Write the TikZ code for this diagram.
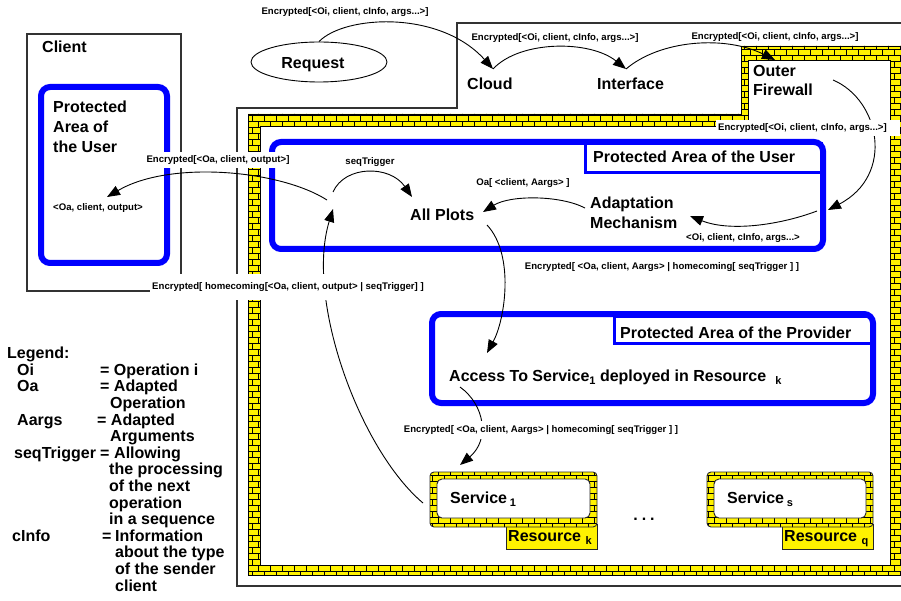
\documentclass[tikz,border=0pt]{standalone}
\usepackage{fontspec}
\setmainfont{Liberation Sans}
\usetikzlibrary{arrows.meta,shapes.geometric,patterns}
\pgfdeclarepatternformonly{mybricks}{\pgfpoint{-1pt}{-1pt}}{\pgfpoint{13pt}{13pt}}{\pgfpoint{12pt}{12pt}}{%
  \pgfsetlinewidth{0.5pt}%
  \pgfpathmoveto{\pgfpoint{0pt}{0pt}}\pgfpathlineto{\pgfpoint{12pt}{0pt}}%
  \pgfpathmoveto{\pgfpoint{0pt}{6pt}}\pgfpathlineto{\pgfpoint{12pt}{6pt}}%
  \pgfpathmoveto{\pgfpoint{0pt}{0pt}}\pgfpathlineto{\pgfpoint{0pt}{6pt}}%
  \pgfpathmoveto{\pgfpoint{6pt}{6pt}}\pgfpathlineto{\pgfpoint{6pt}{12pt}}%
  \pgfusepath{stroke}}
\newcommand\sbs[1]{\raisebox{-3.5pt}{\fontsize{11}{11}\selectfont #1}}
\begin{document}
\begin{tikzpicture}[x=1pt,y=-1pt,
  bigtxt/.style={font=\fontsize{16}{19}\selectfont\bfseries, inner sep=0pt},
  smalltxt/.style={font=\fontsize{9.6}{11}\selectfont\bfseries, inner sep=1pt},
  wlabel/.style={smalltxt, fill=white, inner xsep=2pt, inner ysep=4pt},
  conn/.style={line width=0.9pt, -{Triangle[length=13pt,width=10pt]}},
  frame/.style={draw=black!80, line width=1.3pt},
  bluebox/.style={draw=blue, line width=6pt, rounded corners=9pt},
  tabbox/.style={draw=blue, line width=3pt, fill=white},
  brickband/.style={even odd rule, fill=yellow, postaction={even odd rule, pattern=mybricks}, postaction={draw=black, line width=0.8pt}},
  brickbox/.style={fill=yellow, rounded corners=4pt, postaction={pattern=mybricks}, postaction={draw=black!85, line width=0.9pt}},
  innerbox/.style={fill=white, draw=black!85, line width=0.9pt, rounded corners=5pt},
  resbox/.style={fill=yellow, draw=black!85, line width=0.9pt},
  legtxt/.style={bigtxt, anchor=base west}
]
\useasboundingbox (0,0) rectangle (901,601);
% provider domain outline
\draw[frame] (237,108) -- (457,108) -- (457,23) -- (920,23) -- (920,586) -- (237,586) -- cycle;
% firewall bricks
\path[brickband] (248,114) -- (741,114) -- (741,46) -- (905,46) -- (905,575) -- (248,575) -- cycle
  (260,126) -- (748,126) -- (748,60) -- (890,60) -- (890,565) -- (260,565) -- cycle;
% client
\draw[frame] (27,34) rectangle (181,291);
\draw[bluebox] (41,87) rectangle (167,263);
% protected area of the user
\draw[tabbox] (585.5,144) rectangle (821,172.5);
\draw[bluebox] (272,142) rectangle (823,249);
% protected area of the provider
\draw[tabbox] (614.5,316) rectangle (871,343.5);
\draw[bluebox] (432,314) rectangle (873,403);
% services and resources
\draw[resbox] (506,524) rectangle (597,549);
\draw[resbox] (782,524) rectangle (873,549);
\path[brickbox] (430,472) rectangle (597,527);
\draw[innerbox] (437,479) rectangle (590,518);
\path[brickbox] (707,472) rectangle (873,527);
\draw[innerbox] (714,479) rectangle (866,518);

% texts
\node[bigtxt, anchor=base west] (clientT) at (42,53) {Client};
\node[bigtxt, anchor=base west] (cpa1) at (53,113) {Protected};
\node[bigtxt, anchor=base west] (cpa2) at (53,133) {Area of};
\node[bigtxt, anchor=base west] (cpa3) at (53,153) {the User};
\node[draw, ellipse, line width=0.9pt, minimum width=136pt, minimum height=40pt] (req) at (319,62) {};
\node[bigtxt, anchor=base] (reqT) at (313,68.7) {Request};
\node[bigtxt, anchor=base west] (cloud) at (467,90) {Cloud};
\node[bigtxt, anchor=base west] (iface) at (597,90) {Interface};
\node[bigtxt, anchor=base west] (fw1) at (753,77) {Outer};
\node[bigtxt, anchor=base west] (fw2) at (753,96) {Firewall};
\node[bigtxt, anchor=base west] (puTab) at (593,163) {Protected Area of the User};
\node[bigtxt, anchor=base west] (allp) at (410,221) {All Plots};
\node[bigtxt, anchor=base west] (am1) at (590,209) {Adaptation};
\node[bigtxt, anchor=base west] (am2) at (590,229) {Mechanism};
\node[bigtxt, anchor=base west] (ppTab) at (620,338) {Protected Area of the Provider};
\node[bigtxt, anchor=base west] (access) at (449,381) {Access To Service\sbs{1} deployed in Resource\hspace{9pt}\sbs{k}};
\node[bigtxt, anchor=base west] (svc1) at (450,503) {Service\,\sbs{1}};
\node[bigtxt, anchor=base west] (svcs) at (727,503) {Service\,\sbs{s}};
\node[bigtxt, anchor=base west] (resk) at (508,541) {Resource \sbs{k}};
\node[bigtxt, anchor=base west] (resq) at (784,541) {Resource \sbs{q}};
\node[bigtxt, anchor=base] (dots) at (644,520) {.\hspace{4pt}.\hspace{4pt}.};

% connector end points
\coordinate (cloudIn) at (493,69);
\coordinate (ifIn) at (626,69);
\coordinate (fwIn) at (775,60);
\coordinate (fwOut) at (833,80);
\coordinate (amEdge) at (828,210);
\coordinate (amStart) at (817,211);
\coordinate (amIn) at (690,216);
\coordinate (amOut) at (585,208);
\coordinate (apIn) at (483,212);
\coordinate (apOut) at (487,225);
\coordinate (accIn) at (487,353);
\coordinate (accOut) at (460,387);
\coordinate (svcIn) at (460,465);
\coordinate (svcOut) at (423,503);
\coordinate (hubIn) at (333,209);
\coordinate (hubOut) at (333,192);
\coordinate (apSeq) at (412,197);
\coordinate (hubLeft) at (327,200);
\coordinate (cliIn) at (107,197);

% connectors
\draw[conn] (req.north) .. controls (345,15) and (440,10) .. (cloudIn);
\draw[conn] (cloudIn) .. controls (520,40) and (590,40) .. (ifIn);
\draw[conn] (ifIn) .. controls (660,40) and (725,35) .. (fwIn);
\draw[conn] (fwOut) .. controls (880,100) and (895,175) .. (amEdge);
\draw[conn] (amStart) .. controls (780,225) and (730,232) .. (amIn);
\draw[conn] (amOut) .. controls (560,195) and (510,195) .. (apIn);
\draw[conn] (apOut) .. controls (515,255) and (505,320) .. (accIn);
\draw[conn] (accOut) .. controls (485,405) and (490,440) .. (svcIn);
\draw[conn] (svcOut) .. controls (360,450) and (305,300) .. (hubIn);
\draw[conn] (hubOut) .. controls (345,165) and (390,165) .. (apSeq);
\draw[conn] (hubLeft) .. controls (280,170) and (170,160) .. (cliIn);

% connector labels
\node[smalltxt] (l1) at (345,12) {Encrypted[<Oi, client, cInfo, args...>]};
\node[smalltxt] (l2) at (555,38) {Encrypted[<Oi, client, cInfo, args...>]};
\node[smalltxt] (l3) at (775,37) {Encrypted[<Oi, client, cInfo, args...>]};
\node[wlabel, anchor=west, text width=180pt, align=left] (l4) at (716,128) {Encrypted[<Oi, client, cInfo, args...>]};
\node[smalltxt] (l5) at (743,238) {<Oi, client, cInfo, args...>};
\node[smalltxt] (l6) at (523,183) {Oa[ <client, Aargs> ]};
\node[smalltxt] (l7) at (370,162) {seqTrigger};
\node[wlabel] (l8) at (218,160) {Encrypted[<Oa, client, output>]};
\node[smalltxt] (l9) at (98,208) {<Oa, client, output>};
\node[wlabel, inner ysep=8pt] (l10) at (288,287) {Encrypted[ homecoming[<Oa, client, output> | seqTrigger] ]};
\node[smalltxt] (l11) at (662,267) {Encrypted[ <Oa, client, Aargs> | homecoming[ seqTrigger ] ]};
\node[wlabel] (l12) at (541,430) {Encrypted[ <Oa, client, Aargs> | homecoming[ seqTrigger ] ]};

% legend
\node[legtxt] (lg) at (7,358.7) {Legend:};
\node[legtxt] (lgOi) at (17,375.3) {Oi};
\node[legtxt] (lgOiD) at (100,375.3) {= Operation i};
\node[legtxt] (lgOa) at (17,391.9) {Oa};
\node[legtxt] (lgOaD) at (100,391.9) {= Adapted};
\node[legtxt] (lgOaD2) at (110,408.5) {Operation};
\node[legtxt] (lgAa) at (17,425.1) {Aargs};
\node[legtxt] (lgAaD) at (97,425.1) {= Adapted};
\node[legtxt] (lgAaD2) at (110,441.7) {Arguments};
\node[legtxt] (lgSt) at (14,458.3) {seqTrigger};
\node[legtxt] (lgStE) at (100,458.3) {=};
\node[legtxt] (lgStD) at (114,458.3) {Allowing};
\node[legtxt] (lgStD2) at (109,474.9) {the processing};
\node[legtxt] (lgStD3) at (109,491.5) {of the next};
\node[legtxt] (lgStD4) at (109,508.1) {operation};
\node[legtxt] (lgStD5) at (109,524.7) {in a sequence};
\node[legtxt] (lgCi) at (12,541.3) {cInfo};
\node[legtxt] (lgCiE) at (102,541.3) {=};
\node[legtxt] (lgCiD) at (115,541.3) {Information};
\node[legtxt] (lgCiD2) at (115,557.9) {about the type};
\node[legtxt] (lgCiD3) at (115,574.5) {of the sender};
\node[legtxt] (lgCiD4) at (115,591.1) {client};
\end{tikzpicture}
\end{document}
